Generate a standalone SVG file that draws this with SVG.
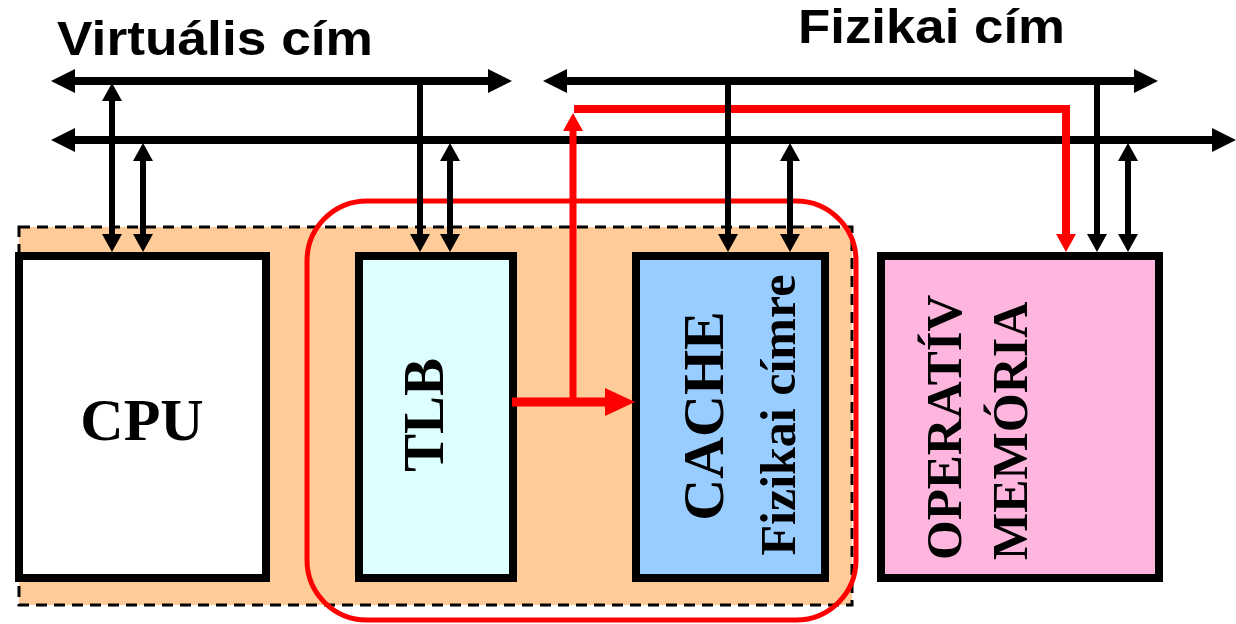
<svg xmlns="http://www.w3.org/2000/svg" width="1236" height="624" viewBox="0 0 1236 624">
<style>
.bus{stroke:#000;stroke-width:8;fill:none;marker-start:url(#bh);marker-end:url(#bh)}
.v{stroke:#000;stroke-width:6;fill:none}
.vd{marker-start:url(#vh);marker-end:url(#vh)}
.vs{marker-end:url(#vh)}
.red{stroke:#FF0000;fill:none}
.box{stroke:#000;stroke-width:8}
.title{font-family:"Liberation Sans",Arial,sans-serif;font-weight:bold;font-size:48px;fill:#000}
.lbl{font-family:"Liberation Serif","Times New Roman",serif;font-weight:bold;fill:#000}
</style>
<defs>
<marker id="bh" markerUnits="userSpaceOnUse" markerWidth="24" markerHeight="24" refX="0" refY="12" orient="auto-start-reverse" overflow="visible"><path d="M0,0 L24,12 L0,24 z" fill="#000"/></marker>
<marker id="vh" markerUnits="userSpaceOnUse" markerWidth="18" markerHeight="20" refX="0" refY="10" orient="auto-start-reverse" overflow="visible"><path d="M0,0 L18,10 L0,20 z" fill="#000"/></marker>
<marker id="rh" markerUnits="userSpaceOnUse" markerWidth="18" markerHeight="20" refX="0" refY="10" orient="auto" overflow="visible"><path d="M0,0 L18,10 L0,20 z" fill="#FF0000"/></marker>
<marker id="rbig" markerUnits="userSpaceOnUse" markerWidth="30" markerHeight="28" refX="0" refY="14" orient="auto" overflow="visible"><path d="M0,0 L30,14 L0,28 z" fill="#FF0000"/></marker>
</defs>
<rect width="1236" height="624" fill="#fff"/>
<g id="group-area">
<rect x="19" y="227" width="833" height="378" fill="#FFCC99" stroke="#000" stroke-width="3" stroke-dasharray="11,7"/>
</g>
<g id="tlb-cache-group">
<rect x="307" y="201" width="549" height="419" rx="60" ry="60" fill="none" stroke="#FF0000" stroke-width="5"/>
</g>
<g id="cpu">
<rect class="box" x="19" y="256" width="247" height="322" fill="#fff"/>
<text class="lbl" x="142" y="440" font-size="60" text-anchor="middle">CPU</text>
</g>
<g id="tlb">
<rect class="box" x="359" y="256" width="154" height="322" fill="#DDFFFF"/>
<text class="lbl" transform="translate(443,415) rotate(-90)" font-size="57" text-anchor="middle">TLB</text>
</g>
<g id="cache">
<rect class="box" x="636" y="256" width="189" height="322" fill="#99CCFF"/>
<text class="lbl" transform="translate(723,416) rotate(-90)" font-size="58" text-anchor="middle">CACHE</text>
<text class="lbl" transform="translate(795,415) rotate(-90)" font-size="50" text-anchor="middle">Fizikai címre</text>
</g>
<g id="memory">
<rect class="box" x="881" y="256" width="278" height="322" fill="#FFB6DE"/>
<text class="lbl" transform="translate(961,560) rotate(-90)" font-size="51">OPERATÍV</text>
<text class="lbl" transform="translate(1027,560) rotate(-90)" font-size="50">MEMÓRIA</text>
</g>
<g id="titles">
<text class="title" x="57" y="55" textLength="316" lengthAdjust="spacingAndGlyphs">Virtuális cím</text>
<text class="title" x="798" y="43" textLength="267" lengthAdjust="spacingAndGlyphs">Fizikai cím</text>
</g>
<g id="connectors">
<line class="bus" x1="75" y1="81" x2="488" y2="81"/>
<line class="bus" x1="567" y1="81" x2="1134" y2="81"/>
<line class="bus" x1="75" y1="140" x2="1212" y2="140"/>
<line class="red" stroke-width="9" x1="512" y1="402" x2="605" y2="402" marker-end="url(#rbig)"/>
<line class="red" stroke-width="7" x1="573" y1="402" x2="573" y2="131" marker-end="url(#rh)"/>
<path class="red" stroke-width="8" d="M574,109 H1066 V234" marker-end="url(#rh)"/>
<line class="v vd" x1="112" y1="101" x2="112" y2="234"/>
<line class="v vd" x1="143" y1="161" x2="143" y2="234"/>
<line class="v vs" x1="420" y1="81" x2="420" y2="234"/>
<line class="v vd" x1="450" y1="161" x2="450" y2="234"/>
<line class="v vs" x1="728" y1="81" x2="728" y2="234"/>
<line class="v vd" x1="790" y1="161" x2="790" y2="234"/>
<line class="v vs" x1="1097" y1="81" x2="1097" y2="234"/>
<line class="v vd" x1="1128" y1="161" x2="1128" y2="234"/>
</g>
</svg>
